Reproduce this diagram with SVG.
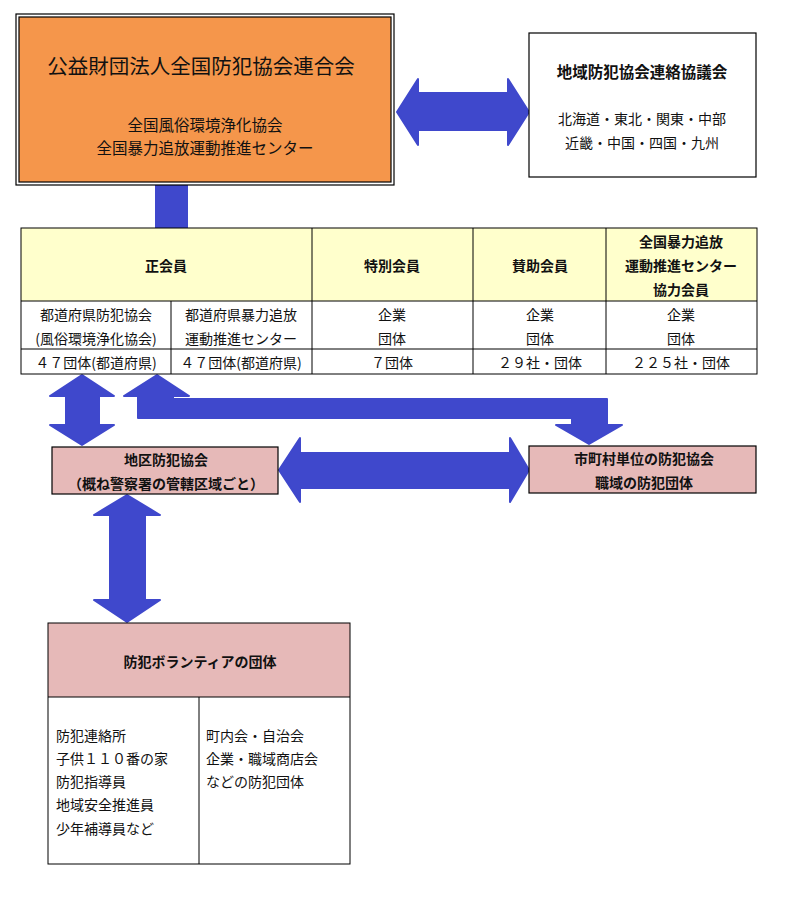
<svg xmlns="http://www.w3.org/2000/svg" width="800" height="912" viewBox="0 0 800 912">
<style>
text{font-family:"Noto Sans CJK JP","Noto Sans CJK SC",sans-serif;fill:#111;text-anchor:middle;dominant-baseline:central}
.b{font-weight:bold}
.s14{font-size:14px}
.l{text-anchor:start}
.box{stroke:#000;stroke-width:1.2}
.ln{stroke:#000;stroke-width:1;fill:none}
.arr{fill:#3F48CC;stroke:#3F48CC;stroke-width:2;stroke-linejoin:round}
</style>
<rect width="800" height="912" fill="#fff"/>
<g id="connectors">
<rect class="arr" x="156" y="185" width="31" height="43"/>
<polygon class="arr" points="397,112 418,79 418,93 508,93 508,79 529,112 508,145 508,130 418,130 418,145"/>
<polygon class="arr" points="82,375 114,396 99,396 99,425 114,425 82,445 50,425 66,425 66,396 50,396"/>
<polygon class="arr" points="157,375 189,396 173,396 173,399 607,399 607,425 622,425 589,444 556,425 572,425 572,418 138,418 138,396 124,396"/>
<polygon class="arr" points="279,470 300,438 300,453 510,453 510,438 529,470 510,502 510,488 300,488 300,502"/>
<polygon class="arr" points="127,495 160,515 145,515 145,600 160,600 127,622 94,600 110,600 110,515 94,515"/>
</g>
<g id="zenbohren">
<rect x="16" y="14" width="378" height="171" fill="#fff" class="box"/>
<rect x="19" y="17" width="372" height="165" fill="#F5964B" class="box"/>
<text x="201" y="65" style="font-size:20.5px">公益財団法人全国防犯協会連合会</text>
<text x="205" y="124" style="font-size:15.5px">全国風俗環境浄化協会</text>
<text x="205" y="147" style="font-size:15.5px">全国暴力追放運動推進センター</text>
</g>
<g id="chiiki-renraku">
<rect x="529" y="33" width="227" height="144" fill="#fff" class="box"/>
<text x="642" y="71" class="b" style="font-size:15.5px">地域防犯協会連絡協議会</text>
<text x="642" y="118" class="s14">北海道・東北・関東・中部</text>
<text x="642" y="142" class="s14">近畿・中国・四国・九州</text>
</g>
<g id="member-table">
<rect x="21" y="228" width="736" height="73" fill="#FFFFCC"/>
<rect x="21" y="228" width="736" height="146" class="ln"/>
<line class="ln" x1="21" y1="301" x2="757" y2="301"/>
<line class="ln" x1="21" y1="349" x2="757" y2="349"/>
<line class="ln" x1="312" y1="228" x2="312" y2="374"/>
<line class="ln" x1="473" y1="228" x2="473" y2="374"/>
<line class="ln" x1="606" y1="228" x2="606" y2="374"/>
<line class="ln" x1="171" y1="301" x2="171" y2="374"/>
<text x="166" y="265" class="b s14">正会員</text>
<text x="392" y="265" class="b s14">特別会員</text>
<text x="540" y="265" class="b s14">賛助会員</text>
<text x="681" y="241" class="b s14">全国暴力追放</text>
<text x="681" y="265" class="b s14">運動推進センター</text>
<text x="681" y="289" class="b s14">協力会員</text>
<text x="96" y="314" class="s14">都道府県防犯協会</text>
<text x="96" y="338" class="s14">(風俗環境浄化協会)</text>
<text x="241" y="314" class="s14">都道府県暴力追放</text>
<text x="241" y="338" class="s14">運動推進センター</text>
<text x="392" y="314" class="s14">企業</text>
<text x="392" y="338" class="s14">団体</text>
<text x="540" y="314" class="s14">企業</text>
<text x="540" y="338" class="s14">団体</text>
<text x="681" y="314" class="s14">企業</text>
<text x="681" y="338" class="s14">団体</text>
<text x="96" y="362" class="s14">４７団体(都道府県)</text>
<text x="241" y="362" class="s14">４７団体(都道府県)</text>
<text x="392" y="362" class="s14">７団体</text>
<text x="540" y="362" class="s14">２９社・団体</text>
<text x="681" y="362" class="s14">２２５社・団体</text>
</g>
<g id="chiku">
<rect x="52" y="447" width="226" height="47" fill="#E6B9B8" class="box"/>
<text x="166" y="459" class="b s14">地区防犯協会</text>
<text x="166" y="483" class="b s14">（概ね警察署の管轄区域ごと）</text>
</g>
<g id="shichoson">
<rect x="529" y="446" width="227" height="47" fill="#E6B9B8" class="box"/>
<text x="644" y="458" class="b s14">市町村単位の防犯協会</text>
<text x="644" y="482" class="b s14">職域の防犯団体</text>
</g>
<g id="volunteer">
<rect x="48" y="623" width="302" height="74" fill="#E6B9B8"/>
<rect x="48" y="623" width="302" height="241" class="ln"/>
<line class="ln" x1="48" y1="697" x2="350" y2="697"/>
<line class="ln" x1="199" y1="697" x2="199" y2="864"/>
<text x="200" y="661" class="b s14">防犯ボランティアの団体</text>
<text x="56" y="735" class="s14 l">防犯連絡所</text>
<text x="56" y="758" class="s14 l">子供１１０番の家</text>
<text x="56" y="781" class="s14 l">防犯指導員</text>
<text x="56" y="804" class="s14 l">地域安全推進員</text>
<text x="56" y="828" class="s14 l">少年補導員など</text>
<text x="206" y="735" class="s14 l">町内会・自治会</text>
<text x="206" y="758" class="s14 l">企業・職域商店会</text>
<text x="206" y="781" class="s14 l">などの防犯団体</text>
</g>
</svg>
